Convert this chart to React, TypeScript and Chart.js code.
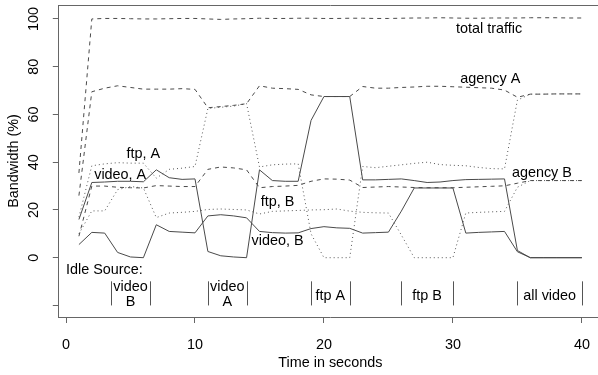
import React, { useEffect, useRef } from "react";
import { Chart, registerables } from "chart.js";

Chart.register(...registerables);

// ---- data (time in seconds, bandwidth in %) ----
const seconds = [1, 2, 3, 4, 5, 6, 7, 8, 9, 10, 11, 12, 13, 14, 15, 16, 17, 18, 19, 20, 21, 22, 23, 24, 25, 26, 27, 28, 29, 30, 31, 32, 33, 34, 35, 36, 37, 38, 39, 40];

const totalTraffic = [35.5, 100, 100.2, 100.2, 100.1, 100, 100, 100.1, 100.2, 100.2, 100, 99.8, 100, 100.1, 100.3, 100.2, 100.2, 100.3, 100.3, 100.2, 100.2, 100.3, 100.3, 100.2, 100.2, 100.3, 100.4, 100.4, 100.5, 100.4, 100.3, 100.3, 100.4, 100.4, 100.4, 100.5, 100.5, 100.5, 100.4, 100.4];

const agencyA = [26, 69.5, 71, 72, 71.3, 70.6, 70.6, 70.6, 70.8, 70.5, 62.8, 63.3, 63.8, 64.5, 72, 71, 70.8, 70.5, 68.2, 67.5, 67.5, 67.5, 71.7, 71, 71, 71.3, 71.5, 71.8, 71.8, 71.6, 71.4, 71.2, 71, 70.2, 67.2, 68.5, 68.5, 68.6, 68.6, 68.6];

const agencyB = [9, 30, 30, 29.5, 29.3, 29.2, 30.2, 30, 29.8, 29.8, 37, 38, 37.6, 36.8, 29.3, 29.8, 30, 30.3, 32, 33, 32.9, 32.5, 29.4, 29.6, 29.8, 29.6, 29.4, 29.3, 29.3, 29.3, 29.5, 29.7, 29.9, 30.1, 31.2, 32.3, 32.3, 32.3, 32.3, 32.3];

const ftpA = [17, 38.5, 39.3, 39.8, 39.6, 39.6, 33.3, 37, 37.5, 38.2, 62.5, 63, 63.5, 64.5, 38, 38.9, 39.2, 39.3, 10, 0, 0, 0, 38.2, 37.7, 38.3, 38.9, 39.5, 40, 39, 38.7, 38.5, 37.8, 37.3, 37.2, 66, 68.5, 68.5, 68.6, 68.6, 68.6];

const videoA = [16, 31.5, 31.7, 32, 32, 31.8, 36.8, 33.5, 32.8, 33, 2.6, 0.8, 0.3, 0, 36.8, 32.3, 32, 32, 57.5, 67.5, 67.5, 67.5, 32.6, 32.6, 32.8, 33, 32.3, 31.5, 31.7, 32.3, 32.7, 32.8, 32.9, 33, 3, 0, 0, 0, 0, 0];

const ftpB = [10, 19.6, 19.6, 28.5, 29.8, 29.2, 16.8, 18.7, 19, 19.4, 20.2, 20.4, 20.2, 20, 18.3, 19.4, 19.6, 19.8, 20, 20.1, 20.4, 19.5, 19, 18.8, 18.7, 9.5, 0, 0, 0, 0, 18.7, 19, 19.2, 19.4, 29.5, 32.3, 32.3, 32.3, 32.3, 32.3];

const videoB = [5.5, 10.6, 10.3, 2.2, 0.3, 0, 13.8, 11, 10.7, 10.4, 17.5, 18, 17.5, 16.7, 11, 10.5, 10.3, 10.4, 12.2, 13, 12.5, 12.3, 10.3, 10.5, 10.7, 19.5, 29.2, 29.2, 29.2, 29.2, 10.3, 10.6, 10.8, 11, 2.5, 0, 0, 0, 0, 0];

const xTickValues = [0, 10, 20, 30, 40];
const yTickValues = [-20, 0, 20, 40, 60, 80, 100];
const yTickLabels = ["", "0", "20", "40", "60", "80", "100"];

// series labels written on the plot (data coordinates, text baseline)
const seriesLabelTexts = ["total traffic", "agency A", "agency B", "ftp, A", "video, A", "ftp, B", "video, B"];
const seriesLabelX = [32.8, 32.9, 36.9, 6.0, 4.2, 16.4, 16.4];
const seriesLabelY = [94.3, 73.1, 34, 41.7, 32.8, 21.5, 5.2];

// idle source annotations
const idleTitle = "Idle Source:";
const idleTitleX = 0;
const idleTitleY = -6.8;
const idleStarts = [3.5, 11, 19, 26, 35];
const idleEnds = [6.5, 14, 22, 30, 40];
const idleNames = [["video", "B"], ["video", "A"], ["ftp A"], ["ftp B"], ["all video"]];
const idleBarTop = -9.9;
const idleBarBottom = -20;
const idleTwoLineBaselines = [-14.1, -20.4];
const idleOneLineBaseline = -17.6;

const FONT_FAMILY = '"Liberation Sans", Arial, Helvetica, sans-serif';
const FONT_SIZE = 14.4;
const AXIS_COLOR = "#666";
const LINE_COLOR = "#4a4a4a";
const DOT_COLOR = "#555";

const boxPlugin = {
  id: "rbox",
  beforeDatasetsDraw(chart: any) {
    const { ctx, chartArea } = chart;
    ctx.save();
    ctx.strokeStyle = AXIS_COLOR;
    ctx.lineWidth = 1;
    const l = Math.round(chartArea.left - 0.5) + 0.5;
    const t = Math.round(chartArea.top) + 0.5;
    const r = Math.round(chartArea.right) + 0.5;
    const b = Math.round(chartArea.bottom - 0.5) + 0.5;
    ctx.beginPath();
    ctx.moveTo(l, t);
    ctx.lineTo(r, t);
    ctx.lineTo(r, b);
    ctx.stroke();
    ctx.restore();
  },
};

const annotationPlugin = {
  id: "rtext",
  afterDatasetsDraw(chart: any) {
    const { ctx } = chart;
    const xs = chart.scales.x;
    const ys = chart.scales.y;
    ctx.save();
    ctx.fillStyle = "#000";
    ctx.font = `${FONT_SIZE}px ${FONT_FAMILY}`;
    ctx.textBaseline = "alphabetic";
    ctx.textAlign = "center";
    seriesLabelTexts.forEach((txt, i) => {
      ctx.fillText(txt, xs.getPixelForValue(seriesLabelX[i]), ys.getPixelForValue(seriesLabelY[i]));
    });
    ctx.textAlign = "left";
    ctx.fillText(idleTitle, xs.getPixelForValue(idleTitleX), ys.getPixelForValue(idleTitleY));

    ctx.strokeStyle = "#555";
    ctx.lineWidth = 1;
    const yTop = ys.getPixelForValue(idleBarTop);
    const yBot = ys.getPixelForValue(idleBarBottom);
    idleStarts.forEach((s, i) => {
      const e = idleEnds[i];
      const px1 = Math.round(xs.getPixelForValue(s)) + 0.5;
      const px2 = Math.round(xs.getPixelForValue(e)) + 0.5;
      ctx.beginPath();
      ctx.moveTo(px1, yTop);
      ctx.lineTo(px1, yBot);
      ctx.moveTo(px2, yTop);
      ctx.lineTo(px2, yBot);
      ctx.stroke();
      const cx = xs.getPixelForValue((s + e) / 2);
      ctx.textAlign = "center";
      const lines = idleNames[i];
      if (lines.length === 2) {
        lines.forEach((ln, k) => ctx.fillText(ln, cx, ys.getPixelForValue(idleTwoLineBaselines[k])));
      } else {
        ctx.fillText(lines[0], cx, ys.getPixelForValue(idleOneLineBaseline));
      }
    });
    ctx.restore();
  },
};

function toPoints(values: number[]) {
  return seconds.map((s, i) => ({ x: s, y: values[i] }));
}

export default function App() {
  const canvasRef = useRef<HTMLCanvasElement | null>(null);

  useEffect(() => {
    const canvas = canvasRef.current;
    if (!canvas) return;
    const dashed = [4, 4];
    const dotted = [1, 3];
    const mk = (label: string, values: number[], dash: number[], color: string) => ({
      label,
      data: toPoints(values),
      borderColor: color,
      borderWidth: 1,
      borderDash: dash,
      pointRadius: 0,
      fill: false,
      tension: 0,
    });
    const font = { family: FONT_FAMILY, size: FONT_SIZE };
    const chart = new Chart(canvas, {
      type: "line",
      data: {
        datasets: [
          mk("total traffic", totalTraffic, dashed, LINE_COLOR),
          mk("agency A", agencyA, dashed, LINE_COLOR),
          mk("agency B", agencyB, dashed, LINE_COLOR),
          mk("ftp, A", ftpA, dotted, DOT_COLOR),
          mk("video, A", videoA, [], LINE_COLOR),
          mk("ftp, B", ftpB, dotted, DOT_COLOR),
          mk("video, B", videoB, [], LINE_COLOR),
        ],
      },
      options: {
        animation: false,
        responsive: false,
        devicePixelRatio: 1,
        layout: { padding: { top: 5, right: 8, left: 0, bottom: 0 } },
        plugins: { legend: { display: false }, tooltip: { enabled: false } },
        scales: {
          x: {
            type: "linear",
            min: -0.56,
            max: 41.56,
            afterBuildTicks: (s: any) => {
              s.ticks = xTickValues.map((v) => ({ value: v }));
            },
            afterFit: (s: any) => {
              s.height = 58;
              s.paddingLeft = 0;
              s.paddingRight = 0;
            },
            grid: { drawOnChartArea: false, drawTicks: true, tickLength: 6, color: AXIS_COLOR, tickColor: AXIS_COLOR },
            border: { display: true, color: AXIS_COLOR, width: 1 },
            ticks: {
              autoSkip: false,
              maxRotation: 0,
              minRotation: 0,
              padding: 13,
              color: "#000",
              font,
              callback: (v: any) => String(v),
            },
            title: {
              display: true,
              text: "Time in seconds",
              color: "#000",
              font,
              padding: { top: 0, bottom: 3 },
            },
          },
          y: {
            type: "linear",
            min: -24.84,
            max: 105.84,
            afterBuildTicks: (s: any) => {
              s.ticks = yTickValues.map((v) => ({ value: v }));
            },
            afterFit: (s: any) => {
              s.width = 58.8;
              s.paddingTop = 0;
              s.paddingBottom = 0;
            },
            grid: { drawOnChartArea: false, drawTicks: true, tickLength: 6, color: AXIS_COLOR, tickColor: AXIS_COLOR },
            border: { display: true, color: AXIS_COLOR, width: 1 },
            ticks: {
              autoSkip: false,
              minRotation: 90,
              maxRotation: 90,
              crossAlign: "center",
              padding: 7,
              color: "#000",
              font,
              callback: (_v: any, i: number) => yTickLabels[i],
            },
            title: {
              display: true,
              text: "Bandwidth (%)",
              color: "#000",
              font,
              padding: { top: 5, bottom: 0 },
            },
          },
        },
      } as any,
      plugins: [boxPlugin, annotationPlugin],
    });
    return () => chart.destroy();
  }, []);

  return (
    <div style={{ position: "fixed", left: 0, top: 0, width: 598, height: 375, overflow: "hidden", background: "#fff" }}>
      <canvas ref={canvasRef} width={610} height={375} style={{ display: "block", width: 610, height: 375 }} />
    </div>
  );
}
